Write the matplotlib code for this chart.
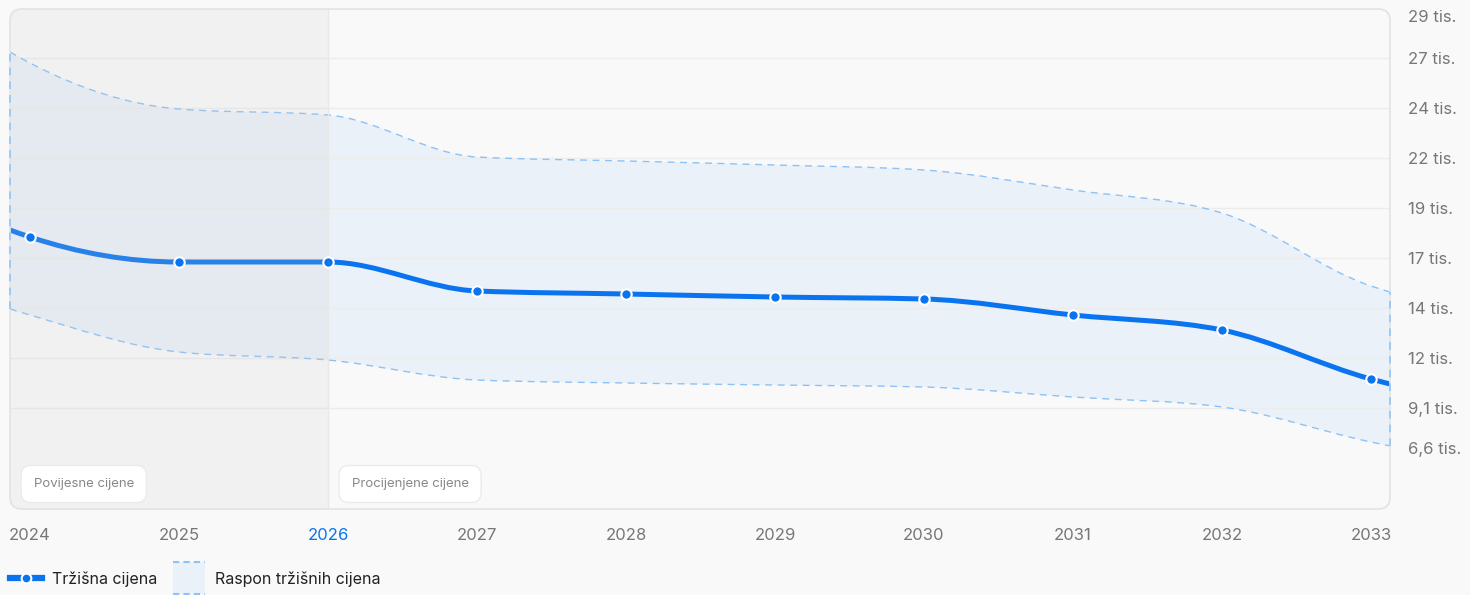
import numpy as np
import matplotlib
matplotlib.use("Agg")
import matplotlib.pyplot as plt
from matplotlib.path import Path
from matplotlib.patches import PathPatch, FancyBboxPatch, Rectangle
from matplotlib.lines import Line2D
from matplotlib.transforms import offset_copy

plt.rcParams["font.family"] = ["Inter", "DejaVu Sans"]

# data (values in thousands)
years = [2024, 2025, 2026, 2027, 2028, 2029, 2030, 2031, 2032, 2033]
x_first, x_last = 2023.866, 2033.128          # series are cut at the plot edges
price = [18.0, 17.65, 16.4, 16.4, 14.95, 14.8, 14.65, 14.55, 13.75, 13.0, 10.55, 10.3]
upper = [26.9, 26.35, 24.05, 23.75, 21.65, 21.45, 21.25, 21.0, 20.0, 18.85, 15.2, 14.9]
lower = [14.05, 13.75, 11.9, 11.5, 10.5, 10.35, 10.25, 10.15, 9.65, 9.15, 7.4, 7.2]
forecast_start = 2026
ytick_vals = [9.1, 11.6, 14.1, 16.6, 19.1, 21.6, 24.1, 26.6]
ytick_labels = ["9,1 tis.", "12 tis.", "14 tis.", "17 tis.", "19 tis.", "22 tis.", "24 tis.", "27 tis."]
y_top, y_bottom = 29.05, 4.05
y_top_label, y_bottom_label = "29 tis.", "6,6 tis."

BLUE = "#0a74f0"
BAND = "#ebf1f9"
BAND_EDGE = "#8cc2f6"
GRID = "#ececec"
BG = "#f9f9f9"
TXT = "#777777"

x = np.array([x_first] + years + [x_last])


def monotone_verts(xs, ys):
    # monotone cubic (as d3 curveMonotoneX) expressed as bezier control points
    xs = np.asarray(xs, float)
    ys = np.asarray(ys, float)
    h = np.diff(xs)
    s = np.diff(ys) / h
    m = np.zeros(len(xs))
    for i in range(1, len(xs) - 1):
        if s[i - 1] * s[i] <= 0:
            m[i] = 0
        else:
            p = (s[i - 1] * h[i] + s[i] * h[i - 1]) / (h[i - 1] + h[i])
            m[i] = np.sign(s[i]) * min(abs(s[i - 1]), abs(s[i]), 0.5 * abs(p)) * 2
    m[0] = (3 * s[0] - m[1]) / 2
    m[-1] = (3 * s[-1] - m[-2]) / 2
    verts = [(xs[0], ys[0])]
    for i in range(len(xs) - 1):
        d = h[i] / 3
        verts += [(xs[i] + d, ys[i] + m[i] * d),
                  (xs[i + 1] - d, ys[i + 1] - m[i + 1] * d),
                  (xs[i + 1], ys[i + 1])]
    return verts


def curve_path(verts):
    codes = [Path.MOVETO] + [Path.CURVE4] * (len(verts) - 1)
    return Path(verts, codes)


fig = plt.figure(figsize=(14.7, 5.95), dpi=100)
fig.patch.set_facecolor(BG)
ax = fig.add_axes([10 / 1470, 86 / 595, 1380 / 1470, 500 / 595])
ax.patch.set_visible(False)
for sp in ax.spines.values():
    sp.set_visible(False)

ax.set_xlim(x_first, x_last)
ax.set_ylim(y_bottom, y_top)

# rounded plot area
frame = FancyBboxPatch((0, 0), 1, 1, boxstyle="round,pad=0,rounding_size=0.0087",
                       mutation_aspect=1380 / 500, transform=ax.transAxes,
                       facecolor=BG, edgecolor="none", zorder=0, clip_on=False)
ax.add_patch(frame)
frame_edge = FancyBboxPatch((0, 0), 1, 1, boxstyle="round,pad=0,rounding_size=0.0087",
                            mutation_aspect=1380 / 500, transform=ax.transAxes,
                            facecolor="none", edgecolor="#e3e3e3", lw=1.2, zorder=8, clip_on=False)
ax.add_patch(frame_edge)

ax.set_yticks(ytick_vals)
ax.set_yticklabels(ytick_labels)
ax.grid(axis="y", color=GRID, lw=1, zorder=0.5)
ax.yaxis.tick_right()
ax.tick_params(axis="y", length=0, pad=13, labelsize=12, labelcolor=TXT)
ax.set_xticks(years)
ax.set_xticklabels([str(y) for y in years])
ax.tick_params(axis="x", length=0, pad=14, labelsize=12, labelcolor=TXT)
for lab in ax.get_xticklabels():
    if lab.get_text() == str(forecast_start):
        lab.set_color(BLUE)

# edge labels of the value axis, pulled inside the plot height
tr = ax.get_yaxis_transform()
ax.text(1.0, y_top, y_top_label, transform=offset_copy(tr, fig=fig, x=13, y=-6, units="points"),
        ha="left", va="center", fontsize=12, color=TXT)
ax.text(1.0, 6.6, y_bottom_label, transform=offset_copy(tr, fig=fig, x=13, y=6, units="points"),
        ha="left", va="center", fontsize=12, color=TXT)

# price range band
up_v = monotone_verts(x, upper)
lo_v = monotone_verts(x, lower)
band_verts = up_v + lo_v[::-1] + [up_v[0]]
band_codes = ([Path.MOVETO] + [Path.CURVE4] * (len(up_v) - 1) + [Path.LINETO]
              + [Path.CURVE4] * (len(lo_v) - 1) + [Path.CLOSEPOLY])
ax.add_patch(PathPatch(Path(band_verts, band_codes), facecolor=BAND, edgecolor="none", zorder=1))
for v in (up_v, lo_v):
    ax.add_patch(PathPatch(curve_path(v), facecolor="none", edgecolor=BAND_EDGE, lw=1,
                           linestyle=(0, (5, 4)), zorder=2))
for xe, ue, le in ((x[0], upper[0], lower[0]), (x[-1], upper[-1], lower[-1])):
    ax.plot([xe, xe], [le, ue], color=BAND_EDGE, lw=1.1, ls=(0, (5, 4)), zorder=9, clip_on=False)

# market price line
ax.add_patch(PathPatch(curve_path(monotone_verts(x, price)), facecolor="none",
                       edgecolor=BLUE, lw=3.6, zorder=3))

# historical overlay
hist = Rectangle((x_first, y_bottom), forecast_start - x_first, y_top - y_bottom,
                 facecolor="#c8c8c8", alpha=0.16, edgecolor="none", zorder=4)
ax.add_patch(hist)
hist.set_clip_path(frame)
ax.axvline(forecast_start, color="#e8e8e8", lw=1, zorder=4)

ax.plot(years, price[1:-1], ls="none", marker="o", ms=7.5, mfc=BLUE, mec="white", mew=1.5, zorder=6)

# section labels
box = dict(boxstyle="round,pad=0.95,rounding_size=0.75", fc="white", ec="#ebebeb", lw=1)
ax.annotate("Povijesne cijene", xy=(0, 0), xycoords="axes fraction", xytext=(17, 18),
            textcoords="offset points", ha="left", va="center", fontsize=9.5, color="#888888",
            bbox=box, zorder=9)
ax.annotate("Procijenjene cijene", xy=(forecast_start, 0), xycoords=("data", "axes fraction"),
            xytext=(17, 18), textcoords="offset points", ha="left", va="center", fontsize=9.5,
            color="#888888", bbox=box, zorder=9)


class BandHandler:
    def legend_artist(self, legend, orig_handle, fontsize, handlebox):
        x0, y0 = handlebox.xdescent, handlebox.ydescent
        w, h = handlebox.width, handlebox.height
        cy = y0 + h / 2
        half = 11.5
        t = handlebox.get_transform()
        rect = Rectangle((x0, cy - half), w, 2 * half, facecolor=BAND, edgecolor="none", transform=t)
        handlebox.add_artist(rect)
        for yy in (cy - half, cy + half):
            handlebox.add_artist(Line2D([x0, x0 + w], [yy, yy], color=BAND_EDGE, lw=1.5,
                                        ls=(0, (3, 2)), transform=t))
        return rect


h_line = Line2D([], [], color=BLUE, lw=4.5, marker="o", ms=7, mfc=BLUE, mec="white", mew=1.5)
h_band = Rectangle((0, 0), 1, 1)
fig.legend([h_line, h_band], ["Tržišna cijena", "Raspon tržišnih cijena"],
           handler_map={Rectangle: BandHandler()}, loc="center left",
           bbox_to_anchor=(10 / 1470, 1 - 579 / 595), ncol=2, frameon=False,
           fontsize=11.5, labelcolor="#222222", handlelength=2.0,
           handletextpad=0.65, columnspacing=0.95, borderpad=0, borderaxespad=0, numpoints=1)

fig.savefig("out.png", dpi=100, facecolor=BG)
